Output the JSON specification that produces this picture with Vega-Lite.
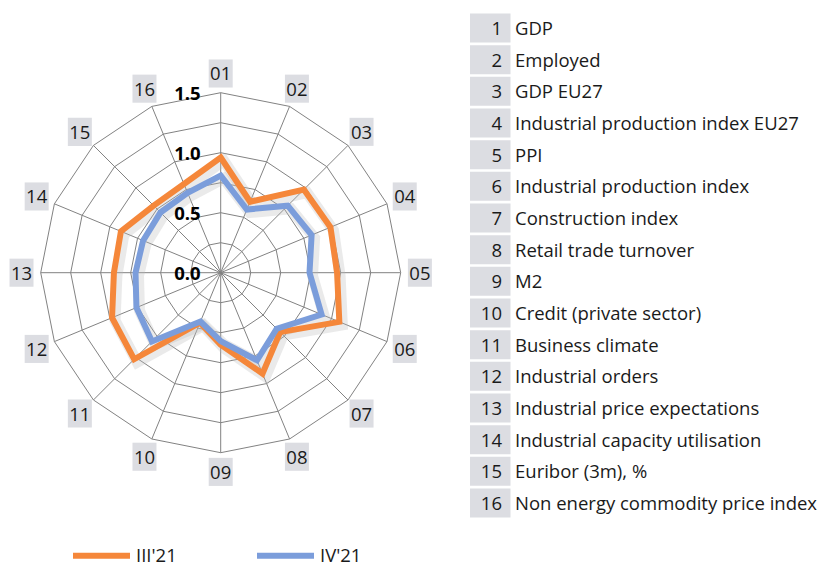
{
  "$schema": "https://vega.github.io/schema/vega-lite/v6.json",
  "padding": 0,
  "background": "white",
  "config": {"font": "Open Sans", "view": {"stroke": null}},
  "datasets": {
    "vals": [
      {"series": "III'21", "k": 1, "v": 0.96},
      {"series": "III'21", "k": 2, "v": 0.64},
      {"series": "III'21", "k": 3, "v": 0.98},
      {"series": "III'21", "k": 4, "v": 0.99},
      {"series": "III'21", "k": 5, "v": 0.97},
      {"series": "III'21", "k": 6, "v": 1.07},
      {"series": "III'21", "k": 7, "v": 0.70},
      {"series": "III'21", "k": 8, "v": 0.91},
      {"series": "III'21", "k": 9, "v": 0.60},
      {"series": "III'21", "k": 10, "v": 0.45},
      {"series": "III'21", "k": 11, "v": 1.02},
      {"series": "III'21", "k": 12, "v": 0.98},
      {"series": "III'21", "k": 13, "v": 0.89},
      {"series": "III'21", "k": 14, "v": 0.90},
      {"series": "III'21", "k": 15, "v": 0.79},
      {"series": "III'21", "k": 16, "v": 0.80},
      {"series": "IV'21", "k": 1, "v": 0.81},
      {"series": "IV'21", "k": 2, "v": 0.57},
      {"series": "IV'21", "k": 3, "v": 0.79},
      {"series": "IV'21", "k": 4, "v": 0.82},
      {"series": "IV'21", "k": 5, "v": 0.74},
      {"series": "IV'21", "k": 6, "v": 0.91},
      {"series": "IV'21", "k": 7, "v": 0.66},
      {"series": "IV'21", "k": 8, "v": 0.79},
      {"series": "IV'21", "k": 9, "v": 0.57},
      {"series": "IV'21", "k": 10, "v": 0.44},
      {"series": "IV'21", "k": 11, "v": 0.81},
      {"series": "IV'21", "k": 12, "v": 0.76},
      {"series": "IV'21", "k": 13, "v": 0.71},
      {"series": "IV'21", "k": 14, "v": 0.70},
      {"series": "IV'21", "k": 15, "v": 0.71},
      {"series": "IV'21", "k": 16, "v": 0.72}
    ],
    "grid": [
      {"ring": 0.25, "k": [1,2,3,4,5,6,7,8,9,10,11,12,13,14,15,16]},
      {"ring": 0.5, "k": [1,2,3,4,5,6,7,8,9,10,11,12,13,14,15,16]},
      {"ring": 0.75, "k": [1,2,3,4,5,6,7,8,9,10,11,12,13,14,15,16]},
      {"ring": 1.0, "k": [1,2,3,4,5,6,7,8,9,10,11,12,13,14,15,16]},
      {"ring": 1.25, "k": [1,2,3,4,5,6,7,8,9,10,11,12,13,14,15,16]},
      {"ring": 1.5, "k": [1,2,3,4,5,6,7,8,9,10,11,12,13,14,15,16]}
    ],
    "ticks": [
      {"t": 0.0, "label": "0.0"},
      {"t": 0.5, "label": "0.5"},
      {"t": 1.0, "label": "1.0"},
      {"t": 1.5, "label": "1.5"}
    ],
    "table": [
      {"k": 1, "code": "01", "name": "GDP"},
      {"k": 2, "code": "02", "name": "Employed"},
      {"k": 3, "code": "03", "name": "GDP EU27"},
      {"k": 4, "code": "04", "name": "Industrial production index EU27"},
      {"k": 5, "code": "05", "name": "PPI"},
      {"k": 6, "code": "06", "name": "Industrial production index"},
      {"k": 7, "code": "07", "name": "Construction index"},
      {"k": 8, "code": "08", "name": "Retail trade turnover"},
      {"k": 9, "code": "09", "name": "M2"},
      {"k": 10, "code": "10", "name": "Credit (private sector)"},
      {"k": 11, "code": "11", "name": "Business climate"},
      {"k": 12, "code": "12", "name": "Industrial orders"},
      {"k": 13, "code": "13", "name": "Industrial price expectations"},
      {"k": 14, "code": "14", "name": "Industrial capacity utilisation"},
      {"k": 15, "code": "15", "name": "Euribor (3m), %"},
      {"k": 16, "code": "16", "name": "Non energy commodity price index"}
    ]
  },
  "spacing": 30,
  "hconcat": [
    {
      "width": 440,
      "height": 530,
      "layer": [
        {
          "data": {"name": "grid"},
          "transform": [
            {"flatten": ["k"]},
            {"calculate": "(datum.k - 1) * PI / 8", "as": "theta"},
            {"calculate": "datum.ring * sin(datum.theta)", "as": "x"},
            {"calculate": "datum.ring * cos(datum.theta)", "as": "y"}
          ],
          "mark": {"type": "line", "interpolate": "linear-closed", "color": "#828282", "strokeWidth": 1},
          "encoding": {
            "x": {"field": "x", "type": "quantitative", "scale": {"domain": [-1.8392, 1.8275], "nice": false, "zero": false}, "axis": null},
            "y": {"field": "y", "type": "quantitative", "scale": {"domain": [-2.1442, 2.2725], "nice": false, "zero": false}, "axis": null},
            "detail": {"field": "ring", "type": "nominal"},
            "order": {"field": "k", "type": "quantitative"}
          }
        },
        {
          "data": {"name": "table"},
          "transform": [
            {"calculate": "(datum.k - 1) * PI / 8", "as": "theta"},
            {"calculate": "0", "as": "x0"},
            {"calculate": "0", "as": "y0"},
            {"calculate": "1.5 * sin(datum.theta)", "as": "x2"},
            {"calculate": "1.5 * cos(datum.theta)", "as": "y2"}
          ],
          "mark": {"type": "rule", "color": "#828282", "strokeWidth": 1},
          "encoding": {
            "x": {"field": "x0", "type": "quantitative"},
            "y": {"field": "y0", "type": "quantitative"},
            "x2": {"field": "x2"},
            "y2": {"field": "y2"}
          }
        },
        {
          "data": {"name": "vals"},
          "transform": [
            {"calculate": "(datum.k - 1) * PI / 8", "as": "theta"},
            {"calculate": "datum.v * sin(datum.theta)", "as": "x"},
            {"calculate": "datum.v * cos(datum.theta)", "as": "y"}
          ],
          "mark": {"type": "line", "interpolate": "linear-closed", "color": "#b8b8b8", "strokeWidth": 11, "opacity": 0.3, "xOffset": 3, "yOffset": 3, "strokeJoin": "miter"},
          "encoding": {
            "x": {"field": "x", "type": "quantitative"},
            "y": {"field": "y", "type": "quantitative"},
            "detail": {"field": "series", "type": "nominal"},
            "order": {"field": "k", "type": "quantitative"}
          }
        },
        {
          "data": {"name": "vals"},
          "transform": [
            {"calculate": "(datum.k - 1) * PI / 8", "as": "theta"},
            {"calculate": "datum.v * sin(datum.theta)", "as": "x"},
            {"calculate": "datum.v * cos(datum.theta)", "as": "y"}
          ],
          "mark": {"type": "line", "interpolate": "linear-closed", "strokeWidth": 6, "strokeJoin": "miter"},
          "encoding": {
            "x": {"field": "x", "type": "quantitative"},
            "y": {"field": "y", "type": "quantitative"},
            "color": {
              "field": "series", "type": "nominal",
              "scale": {"domain": ["III'21", "IV'21"], "range": ["#F5873A", "#7B9DDB"]},
              "legend": {
                "title": null, "orient": "none", "legendX": 70, "legendY": 524,
                "direction": "horizontal", "symbolType": "stroke", "symbolSize": 3249,
                "symbolStrokeWidth": 6, "labelFontSize": 18.5, "labelFont": "Open Sans",
                "labelColor": "#1a1a1a", "labelOffset": 3, "columnPadding": 68
              }
            },
            "order": {"field": "k", "type": "quantitative"}
          }
        },
        {
          "data": {"name": "table"},
          "transform": [
            {"calculate": "(datum.k - 1) * PI / 8", "as": "theta"},
            {"calculate": "1.66 * sin(datum.theta) - 0.1", "as": "bx1"},
            {"calculate": "1.66 * sin(datum.theta) + 0.1", "as": "bx2"},
            {"calculate": "1.66 * cos(datum.theta) - 0.117", "as": "by1"},
            {"calculate": "1.66 * cos(datum.theta) + 0.117", "as": "by2"}
          ],
          "mark": {"type": "rect", "color": "#dcdde2"},
          "encoding": {
            "x": {"field": "bx1", "type": "quantitative"},
            "x2": {"field": "bx2"},
            "y": {"field": "by1", "type": "quantitative"},
            "y2": {"field": "by2"}
          }
        },
        {
          "data": {"name": "table"},
          "transform": [
            {"calculate": "(datum.k - 1) * PI / 8", "as": "theta"},
            {"calculate": "1.66 * sin(datum.theta)", "as": "lx"},
            {"calculate": "1.66 * cos(datum.theta)", "as": "ly"}
          ],
          "mark": {"type": "text", "fontSize": 18.5, "color": "#1a1a1a", "baseline": "middle", "align": "center", "dy": 1},
          "encoding": {
            "x": {"field": "lx", "type": "quantitative"},
            "y": {"field": "ly", "type": "quantitative"},
            "text": {"field": "code", "type": "nominal"}
          }
        },
        {
          "data": {"name": "ticks"},
          "transform": [{"calculate": "0", "as": "x0"}],
          "mark": {"type": "text", "fontSize": 18.5, "fontWeight": "bold", "color": "#000", "align": "right", "baseline": "middle", "dx": -20, "dy": 1},
          "encoding": {
            "x": {"field": "x0", "type": "quantitative"},
            "y": {"field": "t", "type": "quantitative"},
            "text": {"field": "label", "type": "nominal"}
          }
        }
      ]
    },
    {
      "width": 352,
      "height": 531,
      "data": {"name": "table"},
      "transform": [
        {"calculate": "0", "as": "c0"},
        {"calculate": "40.5", "as": "c1"},
        {"calculate": "32", "as": "cn"},
        {"calculate": "45", "as": "ct"}
      ],
      "layer": [
        {
          "mark": {"type": "rect", "color": "#dcdde2"},
          "encoding": {
            "y": {"field": "k", "type": "ordinal", "scale": {"paddingInner": 0.085, "paddingOuter": 0.426}, "axis": null},
            "x": {"field": "c0", "type": "quantitative", "scale": {"domain": [0, 352], "nice": false, "zero": false}, "axis": null},
            "x2": {"field": "c1"}
          }
        },
        {
          "mark": {"type": "text", "fontSize": 18.5, "color": "#1a1a1a", "align": "right", "baseline": "middle", "dy": 1},
          "encoding": {
            "y": {"field": "k", "type": "ordinal"},
            "x": {"field": "cn", "type": "quantitative"},
            "text": {"field": "k", "type": "nominal"}
          }
        },
        {
          "mark": {"type": "text", "fontSize": 18.5, "color": "#1a1a1a", "align": "left", "baseline": "middle", "dy": 1},
          "encoding": {
            "y": {"field": "k", "type": "ordinal"},
            "x": {"field": "ct", "type": "quantitative"},
            "text": {"field": "name", "type": "nominal"}
          }
        }
      ]
    }
  ]
}
